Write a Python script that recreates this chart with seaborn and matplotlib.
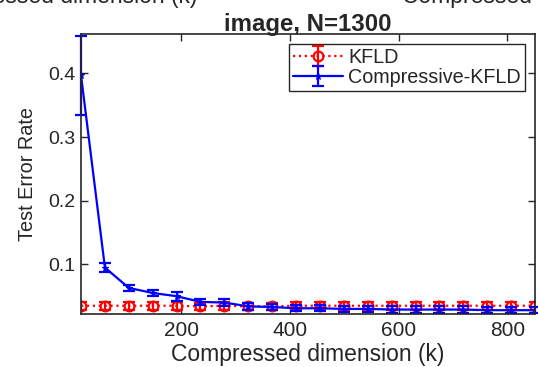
import matplotlib
matplotlib.use("Agg")
import matplotlib.pyplot as plt
import seaborn as sns
import pandas as pd

# compressed dimension k
dims = [15, 59, 103, 147, 191, 235, 279, 323, 367, 411,
        455, 499, 543, 587, 631, 675, 719, 763, 807, 851]

# KFLD (full) test error, roughly flat
kfld_err = [0.035, 0.035, 0.035, 0.035, 0.035, 0.034, 0.035, 0.034, 0.034, 0.035,
            0.035, 0.035, 0.035, 0.035, 0.035, 0.035, 0.035, 0.035, 0.035, 0.035]
kfld_std = [0.006] * 20

# Compressive-KFLD test error
ckfld_err = [0.397, 0.095, 0.063, 0.055, 0.050, 0.041, 0.040, 0.034, 0.033, 0.031,
             0.031, 0.030, 0.030, 0.029, 0.029, 0.029, 0.029, 0.028, 0.028, 0.028]
ckfld_std = [0.062, 0.007, 0.005, 0.005, 0.007, 0.005, 0.005, 0.005, 0.005, 0.005,
             0.005, 0.005, 0.005, 0.005, 0.005, 0.005, 0.005, 0.005, 0.005, 0.005]

x_ticks = [200, 400, 600, 800]
y_ticks = [0.1, 0.2, 0.3, 0.4]

sns.set_style("ticks")
plt.rcParams["font.family"] = ["Liberation Sans", "DejaVu Sans"]
dark = "#262626"

df = pd.DataFrame({"k": dims * 2,
                   "err": kfld_err + ckfld_err,
                   "method": ["KFLD"] * 20 + ["Compressive-KFLD"] * 20})

fig = plt.figure(figsize=(5.38, 3.67), dpi=100)
ax = fig.add_axes([0.1506, 0.1444, 0.8438, 0.763])

sub = df[df.method == "KFLD"]
sns.lineplot(data=sub, x="k", y="err", ax=ax, color="red", linestyle=":",
             linewidth=1.6, marker="o", markersize=7, markerfacecolor="none",
             markeredgecolor="red", markeredgewidth=1.6, legend=False)
eb1 = ax.errorbar(dims, kfld_err, yerr=kfld_std, fmt="none", ecolor="red",
                  elinewidth=1.6, capsize=4, capthick=1.6)

sub = df[df.method == "Compressive-KFLD"]
sns.lineplot(data=sub, x="k", y="err", ax=ax, color="blue", linestyle="-",
             linewidth=1.6, marker="*", markersize=5, markeredgecolor="blue",
             legend=False)
eb2 = ax.errorbar(dims, ckfld_err, yerr=ckfld_std, fmt="none", ecolor="blue",
                  elinewidth=1.6, capsize=4, capthick=1.6, clip_on=False)

l1, l2 = ax.lines[0], ax.lines[len(ax.lines) // 2]
ax.legend([(l1, eb1), (l2, eb2)], ["KFLD", "Compressive-KFLD"],
          loc="upper right", bbox_to_anchor=(0.978, 0.965), fontsize=14.2,
          frameon=True, fancybox=False, edgecolor=dark, framealpha=1,
          handlelength=2.5, borderpad=0.2, labelspacing=0.05,
          handletextpad=0.3, borderaxespad=0)

ax.set_xlim(dims[0], dims[-1])
ax.set_ylim(0.022, 0.462)
ax.set_xticks(x_ticks)
ax.set_yticks(y_ticks)
ax.set_yticklabels(["0.1", "0.2", "0.3", "0.4"])
ax.tick_params(direction="in", length=5, width=1, colors=dark,
               top=True, right=True, pad=4)
ax.tick_params(axis="x", labelsize=15, pad=5)
ax.tick_params(axis="y", labelsize=14)
for s in ax.spines.values():
    s.set_visible(True)
    s.set_color(dark)
    s.set_linewidth(1.2)

ax.set_xlabel("Compressed dimension (k)", fontsize=16.5, color=dark, labelpad=2)
ax.set_ylabel("Test Error Rate", fontsize=14.3, color=dark, labelpad=8)
ax.set_title("image, N=1300", fontsize=17.3, fontweight="bold", pad=2)

# neighbouring subplot labels, cut off at the top edge
fig.text(197 / 538, 1 + 4 / 367, "Compressed dimension (k)", ha="right",
         va="center", fontsize=16.5, color=dark)
fig.text(402 / 538, 1 + 4 / 367, "Compressed dimension (k)", ha="left",
         va="center", fontsize=16.5, color=dark)

fig.savefig("out.png", dpi=100)
